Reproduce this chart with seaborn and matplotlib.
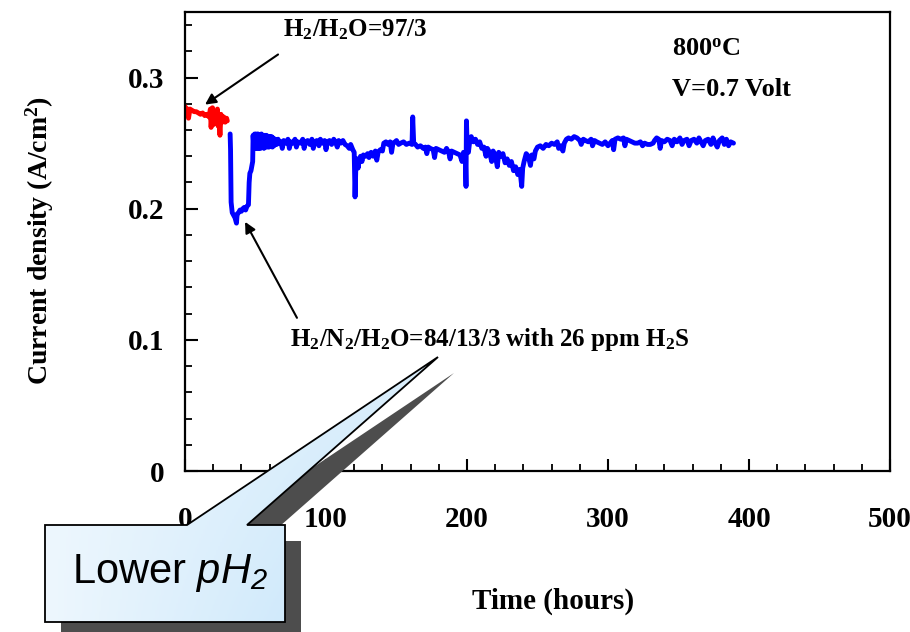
import numpy as np
import pandas as pd
import seaborn as sns
import matplotlib
matplotlib.use("Agg")
import matplotlib.pyplot as plt
from matplotlib.patches import Polygon
from matplotlib.colors import LinearSegmentedColormap

# ---------------- data ----------------
red_t = [0.0, 1.0, 2.0, 2.5, 3.5, 5.0, 6.5, 8.0, 9.5, 11.0, 12.5, 14.0, 15.5, 17.0,
         18.0, 18.5, 19.5, 20.0, 21.0, 22.0, 23.0, 23.5, 24.0, 24.8, 25.5, 26.5,
         27.5, 28.5, 29.5, 30.0]
red_y = [0.278, 0.275, 0.276, 0.269, 0.276, 0.275, 0.274, 0.274, 0.273, 0.272, 0.273,
         0.271, 0.272, 0.270, 0.276, 0.262, 0.277, 0.264, 0.272, 0.270, 0.276, 0.263,
         0.271, 0.256, 0.272, 0.266, 0.270, 0.266, 0.269, 0.267]

blue_t = [32.0, 32.3, 32.7, 33.5, 34.5, 35.5, 36.5, 37.0, 38.0, 39.0, 40.0, 41.0, 42.0,
          43.0, 44.0, 45.0, 45.5, 46.0, 46.8, 47.5, 48.0, 48.3, 48.8, 49.4, 50.0, 50.6,
          51.2, 51.8, 52.4, 53.0, 53.6, 54.2, 54.8, 55.4, 56.0, 56.6, 57.2, 57.8, 58.4,
          59.0, 59.6, 60.2, 60.8, 61.4, 62.0, 62.6, 63.2, 64.0, 65.0, 66.0, 67.0, 68.0,
          69.0, 70.0, 71.5, 73.0, 74.0, 75.0, 76.5, 78.0, 79.0, 80.0, 82.0, 83.5, 84.5,
          85.5, 87.0, 88.5, 90.0, 91.0, 92.0, 93.5, 95.0, 96.0, 97.5, 99.0, 100.0, 101.0,
          102.5, 104.0, 105.5, 107.0, 108.0, 109.0, 110.5, 112.0, 113.5, 115.0, 116.5,
          117.5, 119.0, 120.0, 120.6, 121.2, 122.0, 122.8, 123.5, 124.5, 125.5, 126.5,
          128.0, 129.5, 130.5, 132.0, 133.5, 135.0, 136.0, 137.0, 138.5, 140.0, 141.0,
          142.5, 144.0, 145.5, 146.5, 147.5, 149.0, 150.0, 151.5, 153.0, 155.0, 157.0,
          159.0, 161.0, 161.5, 162.2, 163.5, 165.0, 167.0, 169.0, 170.5, 171.5, 172.5,
          174.0, 176.0, 177.0, 178.0, 180.0, 182.0, 184.0, 185.5, 187.0, 188.0, 189.0,
          191.0, 193.0, 195.0, 196.5, 197.5, 198.8, 199.3, 199.6, 200.2, 201.0, 202.0,
          203.0, 204.5, 206.0, 207.5, 209.0, 210.5, 212.0, 213.5, 214.5, 216.0, 217.5,
          218.5, 220.0, 221.5, 222.5, 224.0, 225.5, 227.0, 228.5, 230.0, 231.5, 233.0,
          234.5, 236.0, 237.5, 238.8, 239.5, 240.5, 242.0, 243.5, 245.0, 246.0, 247.5,
          248.5, 250.0, 252.0, 254.0, 256.0, 258.0, 260.0, 262.0, 264.0, 265.0, 266.5,
          268.0, 269.0, 270.5, 272.0, 274.0, 276.0, 278.0, 280.0, 281.0, 282.5, 284.0,
          286.0, 288.0, 289.0, 290.5, 292.0, 294.0, 296.0, 298.0, 300.0, 301.5, 303.0,
          304.0, 305.0, 307.0, 309.0, 311.0, 312.0, 313.0, 315.0, 317.0, 319.0, 321.0,
          323.0, 324.5, 326.0, 328.0, 330.0, 332.0, 333.0, 334.5, 336.0, 337.0, 338.0,
          340.0, 342.0, 344.0, 345.5, 347.0, 349.0, 351.0, 352.5, 354.0, 356.0, 357.5,
          359.0, 361.0, 363.0, 364.5, 366.0, 367.5, 369.0, 371.0, 373.0, 374.5, 376.0,
          377.5, 379.0, 381.0, 382.5, 384.0, 385.5, 387.0, 389.0]
blue_y = [0.257, 0.245, 0.205, 0.197, 0.195, 0.193, 0.189, 0.196, 0.197, 0.199, 0.198,
          0.200, 0.201, 0.199, 0.202, 0.203, 0.220, 0.227, 0.229, 0.233, 0.236, 0.256,
          0.247, 0.257, 0.246, 0.257, 0.246, 0.257, 0.246, 0.256, 0.246, 0.257, 0.247,
          0.256, 0.246, 0.256, 0.247, 0.256, 0.247, 0.255, 0.247, 0.255, 0.248, 0.255,
          0.247, 0.254, 0.248, 0.253, 0.249, 0.253, 0.250, 0.251, 0.246, 0.252, 0.250,
          0.253, 0.246, 0.251, 0.250, 0.253, 0.247, 0.251, 0.250, 0.253, 0.246, 0.251,
          0.252, 0.249, 0.253, 0.246, 0.251, 0.252, 0.248, 0.253, 0.250, 0.252, 0.245,
          0.251, 0.252, 0.249, 0.253, 0.250, 0.247, 0.252, 0.250, 0.252, 0.249, 0.248,
          0.246, 0.249, 0.245, 0.243, 0.209, 0.233, 0.238, 0.231, 0.237, 0.240, 0.236,
          0.241, 0.240, 0.242, 0.239, 0.243, 0.240, 0.244, 0.237, 0.243, 0.245, 0.244,
          0.250, 0.251, 0.249, 0.251, 0.243, 0.250, 0.251, 0.252, 0.249, 0.250, 0.251,
          0.249, 0.250, 0.249, 0.270, 0.250, 0.249, 0.247, 0.248, 0.246, 0.247, 0.242,
          0.247, 0.246, 0.245, 0.239, 0.246, 0.245, 0.244, 0.243, 0.246, 0.243, 0.238,
          0.244, 0.243, 0.242, 0.241, 0.236, 0.243, 0.241, 0.217, 0.267, 0.245, 0.243,
          0.252, 0.255, 0.251, 0.253, 0.249, 0.251, 0.246, 0.247, 0.240, 0.246, 0.243,
          0.236, 0.244, 0.241, 0.232, 0.243, 0.240, 0.242, 0.235, 0.238, 0.233, 0.236,
          0.229, 0.232, 0.226, 0.230, 0.217, 0.231, 0.236, 0.242, 0.240, 0.233, 0.241,
          0.238, 0.244, 0.247, 0.248, 0.246, 0.249, 0.248, 0.250, 0.249, 0.251, 0.246,
          0.248, 0.244, 0.250, 0.253, 0.254, 0.253, 0.255, 0.254, 0.252, 0.249, 0.253,
          0.252, 0.251, 0.253, 0.248, 0.252, 0.251, 0.250, 0.249, 0.251, 0.248, 0.250,
          0.252, 0.245, 0.253, 0.254, 0.253, 0.254, 0.248, 0.253, 0.252, 0.251, 0.250,
          0.250, 0.251, 0.248, 0.250, 0.249, 0.249, 0.250, 0.252, 0.254, 0.253, 0.246,
          0.252, 0.251, 0.253, 0.252, 0.248, 0.253, 0.251, 0.254, 0.249, 0.252, 0.253,
          0.248, 0.252, 0.253, 0.250, 0.254, 0.251, 0.248, 0.252, 0.253, 0.249, 0.254,
          0.250, 0.247, 0.252, 0.254, 0.249, 0.253, 0.248, 0.251, 0.250]

x_ticks = [0, 100, 200, 300, 400, 500]
x_ticklabels = ["0", "100", "200", "300", "400", "500"]
y_ticks = [0.0, 0.1, 0.2, 0.3]
y_ticklabels = ["0", "0.1", "0.2", "0.3"]

label_dry = r"H$_2$/H$_2$O=97/3"
label_h2s = r"H$_2$/N$_2$/H$_2$O=84/13/3 with 26 ppm H$_2$S"
label_temp = r"800$^\mathrm{o}$C"
label_volt = "V=0.7 Volt"
label_callout = r"Lower $\mathsf{pH_2}$"

# ---------------- style ----------------
sns.set_style("ticks")
plt.rcParams["font.family"] = ["Liberation Serif", "DejaVu Serif"]
plt.rcParams["font.weight"] = "bold"
plt.rcParams["text.color"] = "black"
plt.rcParams["axes.labelcolor"] = "black"
plt.rcParams["xtick.color"] = "black"
plt.rcParams["ytick.color"] = "black"
plt.rcParams["mathtext.fontset"] = "custom"
plt.rcParams["mathtext.rm"] = "Liberation Serif:bold"
plt.rcParams["mathtext.bf"] = "Liberation Serif:bold"
plt.rcParams["mathtext.it"] = "Liberation Serif:bold:italic"
plt.rcParams["mathtext.sf"] = "Liberation Sans:italic:normal"

fig = plt.figure(figsize=(9.10, 6.32), dpi=100)
ax = fig.add_axes([185 / 910, 1 - 471 / 632, 705 / 910, 459 / 632])

df_red = pd.DataFrame({"t": red_t, "j": red_y})
df_blue = pd.DataFrame({"t": blue_t, "j": blue_y})
sns.lineplot(data=df_red, x="t", y="j", ax=ax, color="#ff0000", lw=3.5,
             estimator=None, sort=False)
sns.lineplot(data=df_blue, x="t", y="j", ax=ax, color="#0000ff", lw=3.5,
             estimator=None, sort=False)

ax.set_xlim(0, 500)
ax.set_ylim(0, 0.35)
ax.set_xticks(x_ticks)
ax.set_xticklabels(x_ticklabels)
ax.set_yticks(y_ticks)
ax.set_yticklabels(y_ticklabels)
ax.set_xticks(np.arange(0, 501, 20), minor=True)
ax.set_yticks(np.arange(0, 0.351, 0.02), minor=True)
ax.tick_params(which="major", direction="in", length=9, width=1.5, labelsize=21)
ax.tick_params(axis="x", which="major", pad=25)
ax.tick_params(axis="y", which="major", pad=15)
ax.tick_params(which="minor", direction="in", length=5, width=1.3)
for s in ax.spines.values():
    s.set_linewidth(1.6)
    s.set_color("black")

ax.set_xlabel("Time (hours)", fontsize=21, fontweight="bold")
ax.set_ylabel(r"Current density (A/cm$^2$)", fontsize=20, fontweight="bold")
ax.xaxis.set_label_coords(0.522, -0.255)
ax.yaxis.set_label_coords(-0.183, 0.503)

# annotations
arrow = dict(arrowstyle="-|>", lw=1.5, color="black", mutation_scale=16,
             shrinkA=0, shrinkB=0)
ax.annotate("", xy=(14.2, 0.2794), xytext=(66, 0.3176), arrowprops=arrow)
ax.annotate("", xy=(42.6, 0.190), xytext=(79.4, 0.1168), arrowprops=arrow)
ax.text(69.5, 0.3366, label_dry, fontsize=18, fontweight="bold", va="center", ha="left")
ax.text(74.5, 0.1, label_h2s, fontsize=18, fontweight="bold", va="center", ha="left")
ax.text(345.4, 0.3214, label_temp, fontsize=19, fontweight="bold", va="center", ha="left")
ax.text(345.4, 0.2908, label_volt, fontsize=19, fontweight="bold", va="center", ha="left")

# ---------------- callout overlay (pixel coords) ----------------
ov = fig.add_axes([0, 0, 1, 1], zorder=10)
ov.patch.set_alpha(0)
ov.axis("off")

def callout_shape(dx=0, dy=0):
    pts = [(45, 525), (187, 525), (438, 357), (247, 525), (285, 525),
           (285, 622), (45, 622)]
    return [(x + dx, y + dy) for x, y in pts]

shadow = Polygon(callout_shape(16, 16), closed=True, facecolor="#4d4d4d",
                 edgecolor="none", zorder=1)
ov.add_patch(shadow)

clip = Polygon(callout_shape(), closed=True, facecolor="none", edgecolor="none",
               zorder=1)
ov.add_patch(clip)
gx, gy = np.meshgrid(np.linspace(0, 1, 200), np.linspace(0, 1, 200))
grad = np.clip(0.30 + 0.8 * gx * (0.4 + 0.6 * gy), 0, 1)
cmap = LinearSegmentedColormap.from_list("cb", ["#ffffff", "#c4e4fa"])
im = ov.imshow(grad, extent=[45, 440, 622, 355], cmap=cmap, vmin=0, vmax=1,
               aspect="auto", origin="upper", interpolation="bilinear", zorder=2)
im.set_clip_path(clip)
outline = Polygon(callout_shape(), closed=True, facecolor="none",
                  edgecolor="black", lw=1.3, zorder=3)
ov.add_patch(outline)
ov.text(170, 573, label_callout, fontsize=30, fontweight="normal",
        family=["Liberation Sans", "DejaVu Sans"], ha="center", va="center",
        zorder=4)
ov.set_xlim(0, 910)
ov.set_ylim(632, 0)

fig.savefig("out.png", dpi=100)
